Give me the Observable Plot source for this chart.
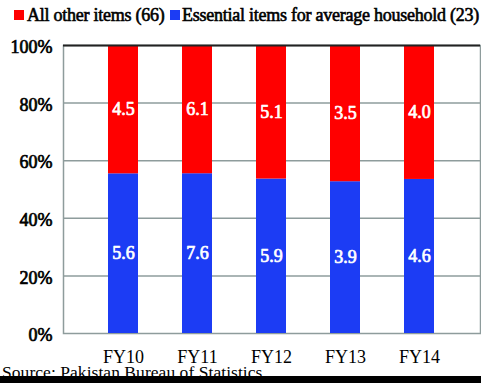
<!DOCTYPE html>
<html><head><meta charset="utf-8">
<script src="https://cdn.jsdelivr.net/npm/d3@7"></script>
<script src="https://cdn.jsdelivr.net/npm/@observablehq/plot@0.6"></script>
<style>
body{margin:0;width:481px;height:383px;overflow:hidden;background:#fff;position:relative;font-family:"Liberation Serif","Times New Roman",serif;}
#legend{position:absolute;left:0;top:0;width:481px;height:30px;}
.sw{position:absolute;width:10px;height:10px;top:10px;}
.lt{position:absolute;top:5px;font-size:18px;line-height:20px;white-space:nowrap;color:#000;letter-spacing:-0.25px;-webkit-text-stroke:0.6px #000;}
#chart{position:absolute;left:0;top:30px;}
#chart svg g[aria-label="y-axis tick label"] text{stroke:#000;stroke-width:0.7px;paint-order:stroke;}
#source{position:absolute;left:2px;top:364px;font-size:17.5px;line-height:17.5px;white-space:nowrap;color:#000;letter-spacing:0.05px;}
#strip{position:absolute;left:0;top:376px;width:481px;height:7px;background:#000;}
</style></head><body>
<div id="legend"></div>
<div id="chart"></div>
<div id="source">Source: Pakistan Bureau of Statistics</div>
<div id="strip"></div>
<script>
const years = ["FY10","FY11","FY12","FY13","FY14"];
const essential = [5.6, 7.6, 5.9, 3.9, 4.6];
const other = [4.5, 6.1, 5.1, 3.5, 4.0];
const seriesNames = ["Essential items for average household (23)", "All other items (66)"];
const seriesColors = ["#1c3cf4", "#ff0000"];
const yTicks = [0, 0.2, 0.4, 0.6, 0.8, 1];

const data = [];
years.forEach((yr, i) => {
  data.push({year: yr, series: seriesNames[0], value: essential[i]});
  data.push({year: yr, series: seriesNames[1], value: other[i]});
});

// legend (red first, then blue, as in the reference)
const legend = document.getElementById("legend");
const legendItems = [
  {name: seriesNames[1], color: seriesColors[1], sx: 14, tx: 27},
  {name: seriesNames[0], color: seriesColors[0], sx: 170, tx: 182}
];
legendItems.forEach(it => {
  const s = document.createElement("div");
  s.className = "sw"; s.style.left = it.sx + "px"; s.style.background = it.color;
  legend.appendChild(s);
  const t = document.createElement("div");
  t.className = "lt"; t.style.left = it.tx + "px"; t.textContent = it.name;
  legend.appendChild(t);
});

const grid = "#8e9c9c";
const chart = Plot.plot({
  width: 481,
  height: 340,
  marginTop: 15,
  marginBottom: 37,
  marginLeft: 63,
  marginRight: 1,
  style: {fontFamily: "'Liberation Serif', 'Times New Roman', serif", background: "transparent", color: "#000"},
  x: {domain: years, padding: 0.59, label: null},
  y: {domain: [0, 1], label: null},
  color: {domain: seriesNames, range: seriesColors},
  marks: [
    Plot.ruleY([0.2, 0.4, 0.6, 0.8], {stroke: grid, strokeWidth: 1.5}),
    Plot.frame({stroke: grid, strokeWidth: 1.5}),
    Plot.barY(data, {x: "year", y: "value", fill: "series", offset: "normalize"}),
    Plot.ruleY([1], {stroke: "#222", strokeWidth: 2}),
    Plot.text(data, Plot.stackY({x: "year", y: "value", z: "series", offset: "normalize",
      text: d => d.value.toFixed(1), fill: "white", stroke: "white", strokeWidth: 0.7,
      paintOrder: "stroke", fontSize: 18})),
    Plot.axisX({tickSize: 0, tickPadding: 17, fontSize: 18, label: null}),
    Plot.axisY(yTicks, {tickSize: 0, tickPadding: 11, fontSize: 18,
      tickFormat: d3.format(".0%"), dy: 2, label: null})
  ]
});
document.getElementById("chart").appendChild(chart);
</script>
</body></html>
